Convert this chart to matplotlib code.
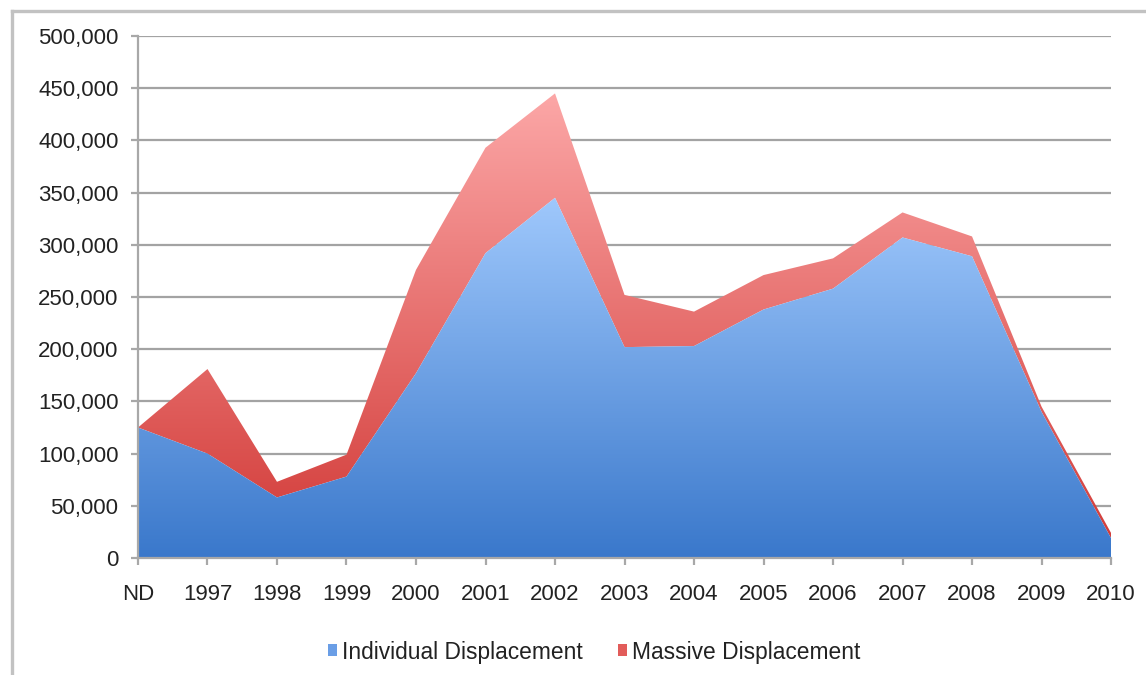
import numpy as np
import matplotlib
matplotlib.use('Agg')
import matplotlib.pyplot as plt
from matplotlib.colors import LinearSegmentedColormap
from matplotlib.patches import Patch
from matplotlib.lines import Line2D
from matplotlib.ticker import FuncFormatter

# --- Data ---
years = ['ND', '1997', '1998', '1999', '2000', '2001', '2002', '2003',
         '2004', '2005', '2006', '2007', '2008', '2009', '2010']
individual = [125000, 100000, 58000, 78000, 177000, 292000, 345000, 202000,
              203000, 238000, 258000, 307000, 289000, 140000, 19000]
massive = [0, 81000, 15000, 21000, 99000, 101000, 100000, 50000,
           33000, 33000, 29000, 24000, 19000, 5000, 5000]

plt.rcParams['font.family'] = ['Liberation Sans', 'DejaVu Sans']

fig = plt.figure(figsize=(11.46, 6.75), dpi=100)
ax = fig.add_axes([0.1204, 0.1733, 0.8491, 0.7734])

x = np.arange(len(years))
blue_top = np.array(individual)
red_top = blue_top + np.array(massive)

blue_cmap = LinearSegmentedColormap.from_list('blue_grad', ['#3a78cb', '#9fc8fc'])
red_cmap = LinearSegmentedColormap.from_list('red_grad', ['#d13835', '#fca7a7'])


def gradient_fill(lower, upper, cmap, ymax, z):
    # invisible polygon used only as a clip path for the gradient image
    poly = ax.fill_between(x, lower, upper, facecolor='none', edgecolor='none')
    grad = np.linspace(0, 1, 256).reshape(-1, 1)
    img = ax.imshow(grad, extent=[x[0], x[-1], 0, ymax], origin='lower',
                    aspect='auto', cmap=cmap, zorder=z, interpolation='bicubic')
    img.set_clip_path(poly.get_paths()[0], ax.transData)


gradient_fill(blue_top, red_top, red_cmap, red_top.max(), 3)
gradient_fill(0, blue_top, blue_cmap, blue_top.max(), 4)

ax.set_xlim(x[0], x[-1])
ax.set_ylim(0, 500000)
ax.set_yticks(np.arange(0, 500001, 50000))
ax.yaxis.set_major_formatter(FuncFormatter(lambda v, p: f'{int(v):,}'))
ax.set_xticks(x)
ax.set_xticklabels(years)

ax.set_axisbelow(True)
ax.yaxis.grid(True, color='#a3a3a3', linewidth=1.6, zorder=0)
ax.xaxis.grid(False)

for side in ['top', 'right']:
    ax.spines[side].set_visible(False)
for side in ['left', 'bottom']:
    ax.spines[side].set_color('#a8a8a8')
    ax.spines[side].set_linewidth(1.6)
    ax.spines[side].set_zorder(5)

ax.tick_params(axis='y', length=5, width=1.6, color='#a8a8a8', pad=9,
               labelsize=16, labelcolor='#222222')
ax.tick_params(axis='x', length=5, width=1.6, color='#a8a8a8', pad=14,
               labelsize=16, labelcolor='#222222')

# legend below the plot
handles = [Patch(facecolor='#6a9ee6', edgecolor='none', label='Individual Displacement'),
           Patch(facecolor='#e25c5a', edgecolor='none', label='Massive Displacement')]
fig.legend(handles=handles, loc='center', bbox_to_anchor=(594 / 1146, 1 - 652 / 675),
           ncol=2, frameon=False, fontsize=16.4, handlelength=0.42, handleheight=0.42,
           handletextpad=0.2, columnspacing=1.55, labelcolor='#222222')

# thin grey frame along the top and left edge
fig.add_artist(Line2D([12 / 1146, 1.0], [1 - 11 / 675, 1 - 11 / 675],
                      transform=fig.transFigure, color='#c2c2c2', linewidth=2.4))
fig.add_artist(Line2D([12 / 1146, 12 / 1146], [0.0, 1 - 11 / 675],
                      transform=fig.transFigure, color='#c2c2c2', linewidth=2.4))

plt.savefig('out.png', dpi=100)
plt.close()
